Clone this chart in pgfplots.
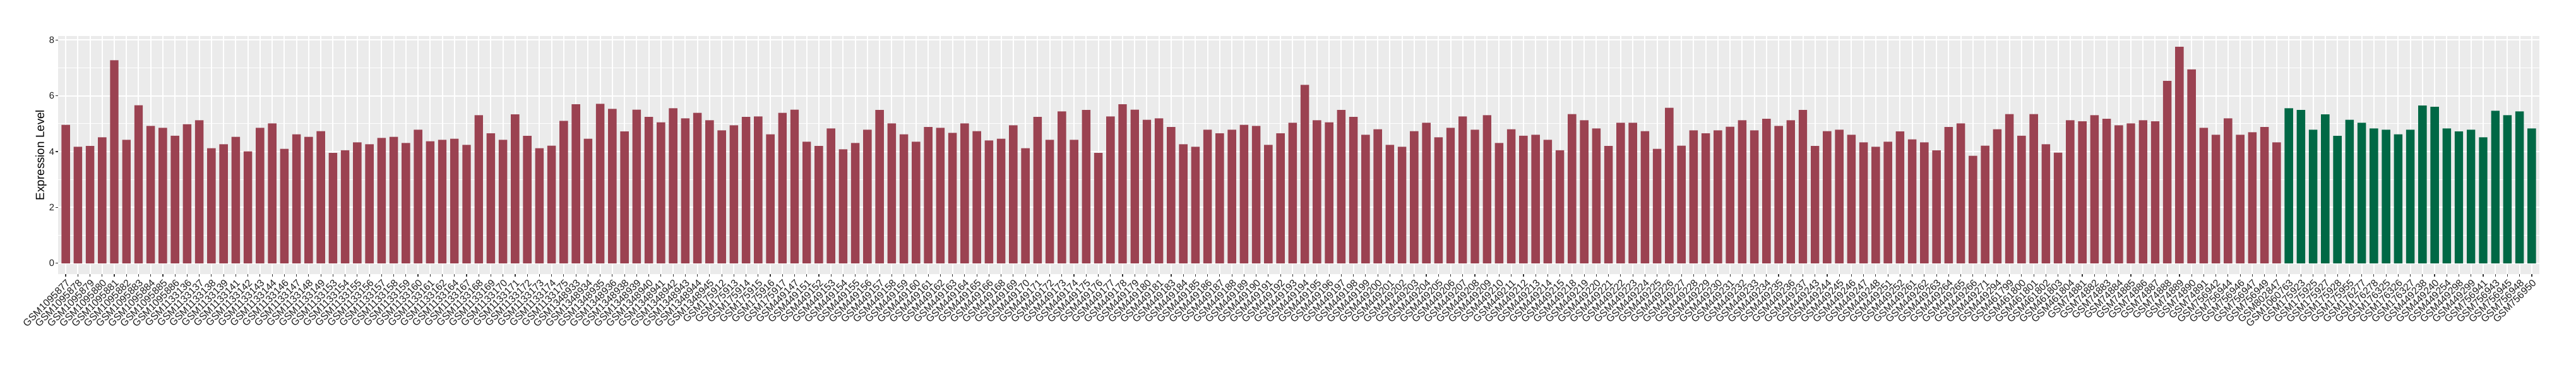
\documentclass[border=0pt]{standalone}
\usepackage{fontspec}
\setmainfont{Liberation Sans}
\usepackage{pgfplots}
\usepackage{pgfplotstable}
\pgfplotsset{compat=1.18}
\definecolor{barred}{RGB}{155,66,81}
\definecolor{bargreen}{RGB}{0,104,69}
\definecolor{panelbg}{RGB}{235,235,235}
\definecolor{tickcol}{RGB}{51,51,51}
\definecolor{labcol}{RGB}{30,30,30}

\pgfplotstableread{
idx label red green
0 GSM1095877 4.96 nan
1 GSM1095878 4.17 nan
2 GSM1095879 4.20 nan
3 GSM1095880 4.51 nan
4 GSM1095881 7.27 nan
5 GSM1095882 4.42 nan
6 GSM1095883 5.66 nan
7 GSM1095884 4.92 nan
8 GSM1095885 4.85 nan
9 GSM1095886 4.57 nan
10 GSM1133136 4.98 nan
11 GSM1133137 5.12 nan
12 GSM1133138 4.12 nan
13 GSM1133139 4.26 nan
14 GSM1133141 4.53 nan
15 GSM1133142 4.01 nan
16 GSM1133143 4.85 nan
17 GSM1133144 5.01 nan
18 GSM1133146 4.10 nan
19 GSM1133147 4.62 nan
20 GSM1133148 4.53 nan
21 GSM1133149 4.73 nan
22 GSM1133153 3.95 nan
23 GSM1133154 4.05 nan
24 GSM1133155 4.33 nan
25 GSM1133156 4.26 nan
26 GSM1133157 4.49 nan
27 GSM1133158 4.53 nan
28 GSM1133159 4.31 nan
29 GSM1133160 4.78 nan
30 GSM1133161 4.37 nan
31 GSM1133162 4.42 nan
32 GSM1133164 4.46 nan
33 GSM1133167 4.24 nan
34 GSM1133168 5.30 nan
35 GSM1133169 4.65 nan
36 GSM1133170 4.42 nan
37 GSM1133171 5.33 nan
38 GSM1133172 4.56 nan
39 GSM1133173 4.12 nan
40 GSM1133174 4.21 nan
41 GSM1133175 5.10 nan
42 GSM1348933 5.69 nan
43 GSM1348934 4.46 nan
44 GSM1348935 5.71 nan
45 GSM1348936 5.53 nan
46 GSM1348938 4.72 nan
47 GSM1348939 5.50 nan
48 GSM1348940 5.24 nan
49 GSM1348941 5.05 nan
50 GSM1348942 5.55 nan
51 GSM1348943 5.19 nan
52 GSM1348944 5.39 nan
53 GSM1348945 5.12 nan
54 GSM175912 4.76 nan
55 GSM175913 4.94 nan
56 GSM175914 5.24 nan
57 GSM175915 5.26 nan
58 GSM175916 4.62 nan
59 GSM175917 5.39 nan
60 GSM449147 5.50 nan
61 GSM449151 4.35 nan
62 GSM449152 4.20 nan
63 GSM449153 4.83 nan
64 GSM449154 4.08 nan
65 GSM449155 4.31 nan
66 GSM449156 4.78 nan
67 GSM449157 5.49 nan
68 GSM449158 5.01 nan
69 GSM449159 4.62 nan
70 GSM449160 4.35 nan
71 GSM449161 4.88 nan
72 GSM449162 4.85 nan
73 GSM449163 4.67 nan
74 GSM449164 5.01 nan
75 GSM449165 4.73 nan
76 GSM449166 4.40 nan
77 GSM449168 4.46 nan
78 GSM449169 4.94 nan
79 GSM449170 4.12 nan
80 GSM449171 5.24 nan
81 GSM449172 4.42 nan
82 GSM449173 5.44 nan
83 GSM449174 4.42 nan
84 GSM449175 5.49 nan
85 GSM449176 3.95 nan
86 GSM449177 5.26 nan
87 GSM449178 5.69 nan
88 GSM449179 5.50 nan
89 GSM449180 5.14 nan
90 GSM449181 5.19 nan
91 GSM449183 4.88 nan
92 GSM449184 4.26 nan
93 GSM449185 4.17 nan
94 GSM449186 4.78 nan
95 GSM449187 4.65 nan
96 GSM449188 4.78 nan
97 GSM449189 4.96 nan
98 GSM449190 4.92 nan
99 GSM449191 4.24 nan
100 GSM449192 4.65 nan
101 GSM449193 5.03 nan
102 GSM449194 6.39 nan
103 GSM449195 5.12 nan
104 GSM449196 5.05 nan
105 GSM449197 5.49 nan
106 GSM449198 5.24 nan
107 GSM449199 4.60 nan
108 GSM449200 4.80 nan
109 GSM449201 4.24 nan
110 GSM449202 4.17 nan
111 GSM449203 4.73 nan
112 GSM449204 5.03 nan
113 GSM449205 4.51 nan
114 GSM449206 4.85 nan
115 GSM449207 5.26 nan
116 GSM449208 4.78 nan
117 GSM449209 5.30 nan
118 GSM449210 4.31 nan
119 GSM449211 4.80 nan
120 GSM449212 4.57 nan
121 GSM449213 4.60 nan
122 GSM449214 4.42 nan
123 GSM449215 4.05 nan
124 GSM449218 5.34 nan
125 GSM449219 5.12 nan
126 GSM449220 4.83 nan
127 GSM449221 4.20 nan
128 GSM449222 5.03 nan
129 GSM449223 5.03 nan
130 GSM449224 4.73 nan
131 GSM449225 4.10 nan
132 GSM449226 5.57 nan
133 GSM449227 4.21 nan
134 GSM449228 4.76 nan
135 GSM449229 4.65 nan
136 GSM449230 4.76 nan
137 GSM449231 4.89 nan
138 GSM449232 5.12 nan
139 GSM449233 4.76 nan
140 GSM449234 5.17 nan
141 GSM449235 4.92 nan
142 GSM449236 5.12 nan
143 GSM449237 5.49 nan
144 GSM449243 4.20 nan
145 GSM449244 4.73 nan
146 GSM449245 4.78 nan
147 GSM449246 4.60 nan
148 GSM449247 4.33 nan
149 GSM449248 4.17 nan
150 GSM449251 4.35 nan
151 GSM449252 4.72 nan
152 GSM449261 4.44 nan
153 GSM449262 4.33 nan
154 GSM449263 4.04 nan
155 GSM449264 4.88 nan
156 GSM449265 5.01 nan
157 GSM449266 3.85 nan
158 GSM449271 4.21 nan
159 GSM449294 4.80 nan
160 GSM461799 5.34 nan
161 GSM461800 4.57 nan
162 GSM461801 5.34 nan
163 GSM461802 4.26 nan
164 GSM461803 3.96 nan
165 GSM461804 5.12 nan
166 GSM74881 5.08 nan
167 GSM74882 5.30 nan
168 GSM74883 5.17 nan
169 GSM74884 4.94 nan
170 GSM74885 5.01 nan
171 GSM74886 5.12 nan
172 GSM74887 5.08 nan
173 GSM74888 6.53 nan
174 GSM74889 7.75 nan
175 GSM74890 6.94 nan
176 GSM74891 4.85 nan
177 GSM756942 4.60 nan
178 GSM756944 5.19 nan
179 GSM756946 4.60 nan
180 GSM756947 4.69 nan
181 GSM756949 4.88 nan
182 GSM802847 4.33 nan
183 GSM1060763 nan 5.55
184 GSM175923 nan 5.49
185 GSM175925 nan 4.78
186 GSM175927 nan 5.33
187 GSM175928 nan 4.56
188 GSM175955 nan 5.14
189 GSM176277 nan 5.03
190 GSM176278 nan 4.83
191 GSM176325 nan 4.78
192 GSM176326 nan 4.62
193 GSM176327 nan 4.78
194 GSM449238 nan 5.65
195 GSM449240 nan 5.60
196 GSM449254 nan 4.83
197 GSM449298 nan 4.72
198 GSM449299 nan 4.78
199 GSM756941 nan 4.51
200 GSM756943 nan 5.46
201 GSM756945 nan 5.30
202 GSM756948 nan 5.44
203 GSM756950 nan 4.83
}\datatable

\begin{document}
\begin{tikzpicture}
\begin{axis}[
  scale only axis,
  width=1964.5pt, height=188.5pt,
  xmin=-0.6, xmax=203.6, ymin=-0.3875, ymax=8.1375,
  axis background/.style={fill=panelbg},
  axis line style={draw=none},
  unbounded coords=discard,
  xtick={0,...,203},
  xticklabels from table={\datatable}{label},
  ytick={0,2,4,6,8}, minor ytick={1,3,5,7},
  xmajorgrids, ymajorgrids, yminorgrids,
  major grid style={white, line width=1pt},
  minor grid style={white, line width=0.5pt},
  tick align=outside, xtick pos=bottom, ytick pos=left,
  major tick length=2pt, minor tick length=0pt,
  tick style={tickcol, line width=0.55pt},
  /pgf/number format/assume math mode=true,
  yticklabel style={font=\fontsize{7.4}{8}\selectfont, text=labcol, inner sep=1pt},
  xticklabel style={rotate=45, anchor=north east, inner sep=1pt, font=\fontsize{7.9}{8}\selectfont, text=labcol},
  ylabel={Expression Level},
  ylabel style={font=\fontsize{9.4}{11}\selectfont, at={(axis description cs:-0.0070,0.5)}, anchor=center},
]
\addplot[ybar, bar width=0.7, bar shift=0pt, fill=barred, draw=none] table[x=idx, y=red] {\datatable};
\addplot[ybar, bar width=0.7, bar shift=0pt, fill=bargreen, draw=none] table[x=idx, y=green] {\datatable};
\end{axis}
\pgfresetboundingbox
\path[use as bounding box] ([xshift=-46.25pt,yshift=-73pt]current axis.south west) rectangle ++(2040pt,290pt);
\end{tikzpicture}
\end{document}
